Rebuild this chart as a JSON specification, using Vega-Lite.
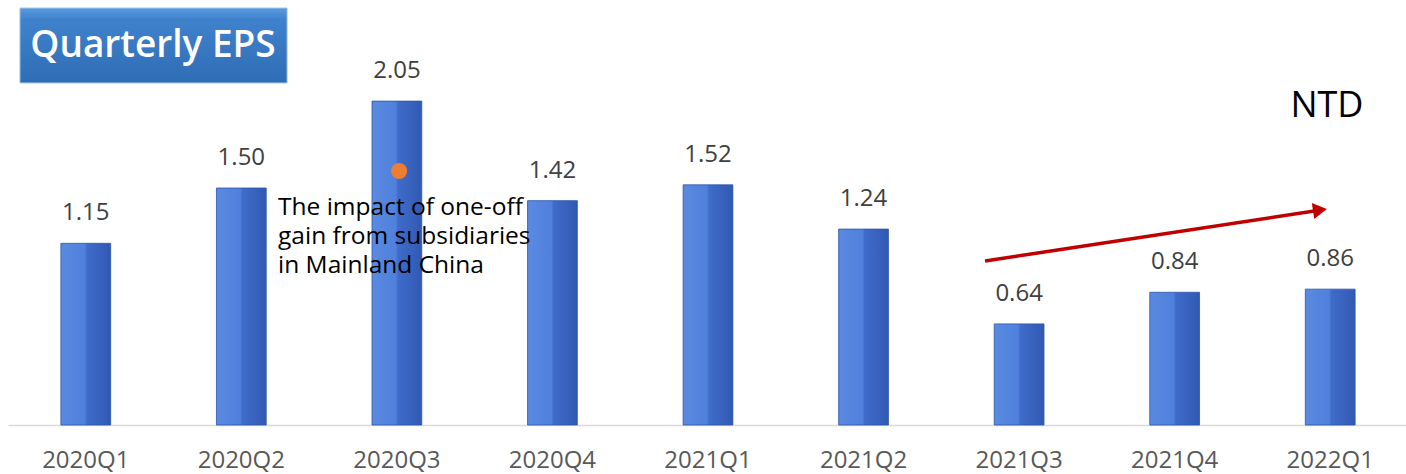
{
  "$schema": "https://vega.github.io/schema/vega-lite/v6.json",
  "autosize": "none",
  "width": 1400,
  "height": 425,
  "padding": {"left": 8, "top": 0, "right": 0, "bottom": 49},
  "background": "white",
  "config": {"view": {"stroke": null}, "font": "Open Sans"},
  "layer": [
    {
      "data": {"values": [
        {"q": "2020Q1", "eps": 1.15},
        {"q": "2020Q2", "eps": 1.50},
        {"q": "2020Q3", "eps": 2.05},
        {"q": "2020Q4", "eps": 1.42},
        {"q": "2021Q1", "eps": 1.52},
        {"q": "2021Q2", "eps": 1.24},
        {"q": "2021Q3", "eps": 0.64},
        {"q": "2021Q4", "eps": 0.84},
        {"q": "2022Q1", "eps": 0.86}
      ]},
      "encoding": {
        "x": {"field": "q", "type": "ordinal", "sort": null,
          "scale": {"paddingInner": 0.68, "paddingOuter": 0.34},
          "axis": {"title": null, "ticks": false, "labelAngle": 0, "labelFontSize": 24, "labelColor": "#595959",
            "labelPadding": 23, "domainColor": "#d9d9d9", "domainWidth": 1.5, "labelFont": "Open Sans"}},
        "y": {"field": "eps", "type": "quantitative", "scale": {"domain": [0, 2.69], "nice": false}, "axis": null}
      },
      "layer": [
        {"mark": {"type": "bar", "stroke": "#2b55a8", "strokeWidth": 1, "strokeOpacity": 0.8,
          "color": {"gradient": "linear", "x1": 0, "x2": 1, "y1": 0, "y2": 0,
            "stops": [{"offset": 0, "color": "#5a8ae0"}, {"offset": 0.48, "color": "#4f80dc"},
                      {"offset": 0.52, "color": "#3f6cca"}, {"offset": 1, "color": "#3159b2"}]}}},
        {"mark": {"type": "text", "dy": -30, "baseline": "middle", "fontSize": 24, "color": "#404040", "font": "Open Sans"},
          "encoding": {"text": {"field": "eps", "type": "quantitative", "format": ".2f"}}}
      ]
    },
    {
      "encoding": {
        "x": {"field": "ax", "type": "quantitative", "scale": {"domain": [0, 9], "nice": false, "zero": false}, "axis": null},
        "y": {"field": "ay", "type": "quantitative", "axis": null}
      },
      "layer": [
        {"data": {"values": [{"ax": 0.077, "ax2": 1.794, "ay": 2.639, "ay2": 2.165}]},
          "mark": {"type": "rect", "stroke": "#9cc3ea", "strokeWidth": 1,
            "color": {"gradient": "linear", "x1": 0, "x2": 0, "y1": 0, "y2": 1,
              "stops": [{"offset": 0, "color": "#5a9be0"}, {"offset": 0.15, "color": "#3f82cc"}, {"offset": 1, "color": "#2f6db5"}]}},
          "encoding": {"x2": {"field": "ax2"}, "y2": {"field": "ay2"}}},
        {"data": {"values": [{"ax": 0.932, "ay": 2.40, "label": "Quarterly EPS"}]},
          "mark": {"type": "text", "fontSize": 37, "fontWeight": 600, "color": "white", "baseline": "middle", "align": "center", "font": "Open Sans"},
          "encoding": {"text": {"field": "label"}}},
        {"data": {"values": [{"ax": 2.514, "ay": 1.608}]},
          "mark": {"type": "circle", "size": 260, "color": "#ED7D31", "opacity": 1}},
        {"data": {"values": [{"ax": 1.736, "ay": 1.373, "label": ["The impact of one-off", "gain from subsidiaries", "in Mainland China"]}]},
          "mark": {"type": "text", "fontSize": 24.5, "color": "#000000", "align": "left", "baseline": "middle", "lineHeight": 29, "font": "Open Sans"},
          "encoding": {"text": {"field": "label"}}},
        {"data": {"values": [{"ax": 8.479, "ay": 2.019, "label": "NTD"}]},
          "mark": {"type": "text", "fontSize": 36, "color": "#000000", "align": "center", "baseline": "middle", "font": "Open Sans"},
          "encoding": {"text": {"field": "label"}}},
        {"data": {"values": [{"ax": 6.281, "ay": 1.038, "ax2": 8.408, "ay2": 1.356}]},
          "mark": {"type": "rule", "color": "#C00000", "strokeWidth": 3.5},
          "encoding": {"x2": {"field": "ax2"}, "y2": {"field": "ay2"}}},
        {"data": {"values": [{"ax": 8.434, "ay": 1.361}]},
          "mark": {"type": "point", "shape": "triangle-right", "filled": true, "size": 260, "angle": -8.6, "color": "#C00000", "opacity": 1}}
      ]
    }
  ],
  "resolve": {"scale": {"x": "independent"}}
}
